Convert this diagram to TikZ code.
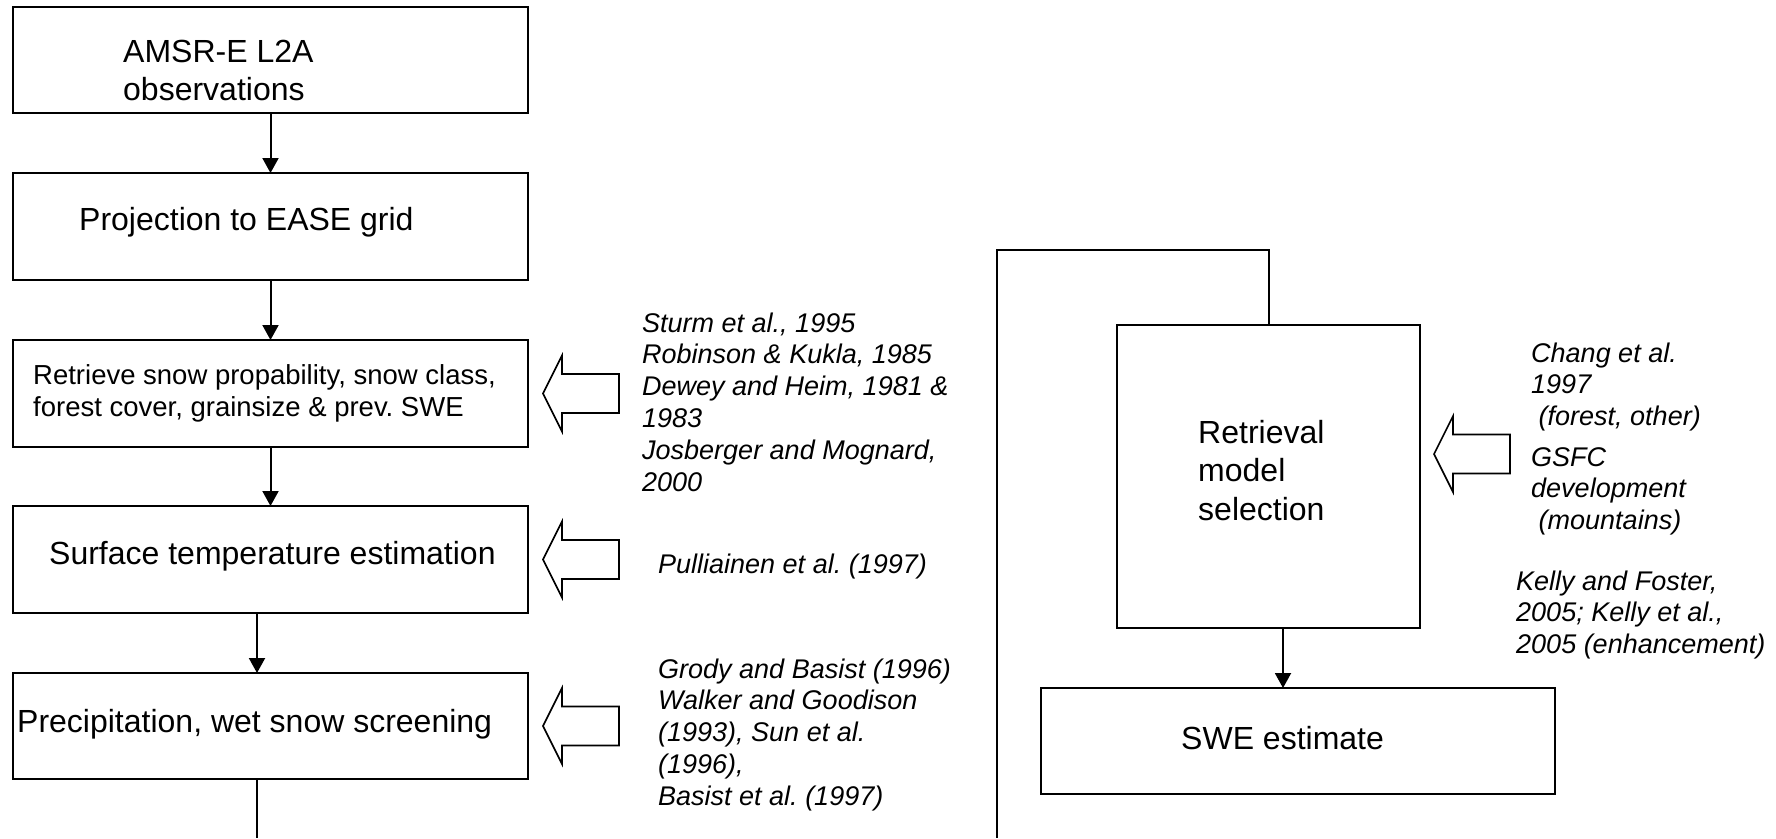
\documentclass[tikz,border=0pt]{standalone}
\usepackage{fontspec}
\setmainfont{Liberation Sans}
\usetikzlibrary{arrows.meta}
\frenchspacing
\newcommand{\mystack}[1]{\vtop{\halign{##\hfil\cr#1\crcr}}}
\begin{document}
\frenchspacing
\begin{tikzpicture}[x=1pt,y=-1pt,
  box/.style={draw, line width=2.1pt, rectangle, inner sep=0pt, outer sep=0pt},
  conn/.style={line width=2pt},
  arr/.style={conn, -{Triangle[length=15pt,width=16pt]}},
  big/.style={font=\fontsize{32}{38.5}\selectfont, inner sep=0pt, anchor=base west},
  small/.style={font=\fontsize{27.5}{32}\selectfont, inner sep=0pt, anchor=base west},
  cite/.style={font=\fontsize{27}{31.8}\selectfont\itshape, inner sep=0pt, anchor=base west},
  barrow/.style={draw, line width=1.6pt, line join=miter},
  blockarrow/.pic={\draw[barrow] (0,0) -- (19,-38) -- (19,-19.5) -- (76,-19.5) -- (76,19.5) -- (19,19.5) -- (19,38) -- cycle;}
]
\useasboundingbox (0,0) rectangle (1776,838);

% left column boxes
\node[box, minimum width=515pt, minimum height=106pt] (b1) at (270.5,60) {};
\node[box, minimum width=515pt, minimum height=107pt] (b2) at (270.5,226.5) {};
\node[box, minimum width=515pt, minimum height=107pt] (b3) at (270.5,393.5) {};
\node[box, minimum width=515pt, minimum height=107pt] (b4) at (270.5,559.5) {};
\node[box, minimum width=515pt, minimum height=106pt] (b5) at (270.5,726) {};

% right column boxes
\node[box, minimum width=303pt, minimum height=303pt] (rb) at (1268.5,476.5) {};
\node[box, minimum width=514pt, minimum height=106pt] (sb) at (1298,741) {};

% connectors
\draw[arr] (b1) -- (b2);
\draw[arr] (b2) -- (b3);
\draw[arr] (b3) -- (b4);
\draw[arr] ([xshift=-13.5pt]b4.south) -- ([xshift=-13.5pt]b5.north);
\coordinate (end5) at (257,838);
\draw[conn] ([xshift=-13.5pt]b5.south) -- (end5);
\coordinate (lt) at (997,250);
\coordinate (lb) at (997,838);
\draw[conn] (rb.north) |- (lt) -- (lb);
\draw[arr] ([xshift=14.5pt]rb.south) -- ([xshift=-15pt]sb.north);

% block arrows
\pic (pa) at (543,393.5) {blockarrow};
\pic (pb) at (543,559.5) {blockarrow};
\pic (pc) at (543,726) {blockarrow};
\pic (pd) at (1434,454) {blockarrow};

% box texts
\node[big] (t1) at (123,62) {\mystack{AMSR-E L2A\cr observations}};
\node[big] (t2) at (79,230) {Projection to EASE grid};
\node[small] (t3) at (33,384) {\mystack{Retrieve snow propability, snow class,\cr forest cover, grainsize \& prev. SWE}};
\node[big] (t4) at (49,564) {Surface temperature estimation};
\node[big] (t5) at (17,732) {Precipitation, wet snow screening};
\node[big] (t6) at (1198,443) {\mystack{Retrieval\cr model\cr selection}};
\node[big] (t7) at (1181,749) {SWE estimate};

% citations
\node[cite] (c1) at (642,332) {\mystack{Sturm et al., 1995\cr Robinson \& Kukla, 1985\cr Dewey and Heim, 1981 \&\cr 1983\cr Josberger and Mognard,\cr 2000}};
\node[cite] (c2) at (658,573) {Pulliainen et al. (1997)};
\node[cite] (c3) at (658,678) {\mystack{Grody and Basist (1996)\cr Walker and Goodison\cr (1993), Sun et al.\cr (1996),\cr Basist et al. (1997)}};
\node[cite] (c4) at (1531,362) {\mystack{Chang et al.\cr 1997\cr\ (forest, other)}};
\node[cite] (c5) at (1531,466) {\mystack{GSFC\cr development\cr\ (mountains)}};
\node[cite] (c6) at (1516,590) {\mystack{Kelly and Foster,\cr 2005; Kelly et al.,\cr 2005 (enhancement)}};
\end{tikzpicture}
\end{document}
